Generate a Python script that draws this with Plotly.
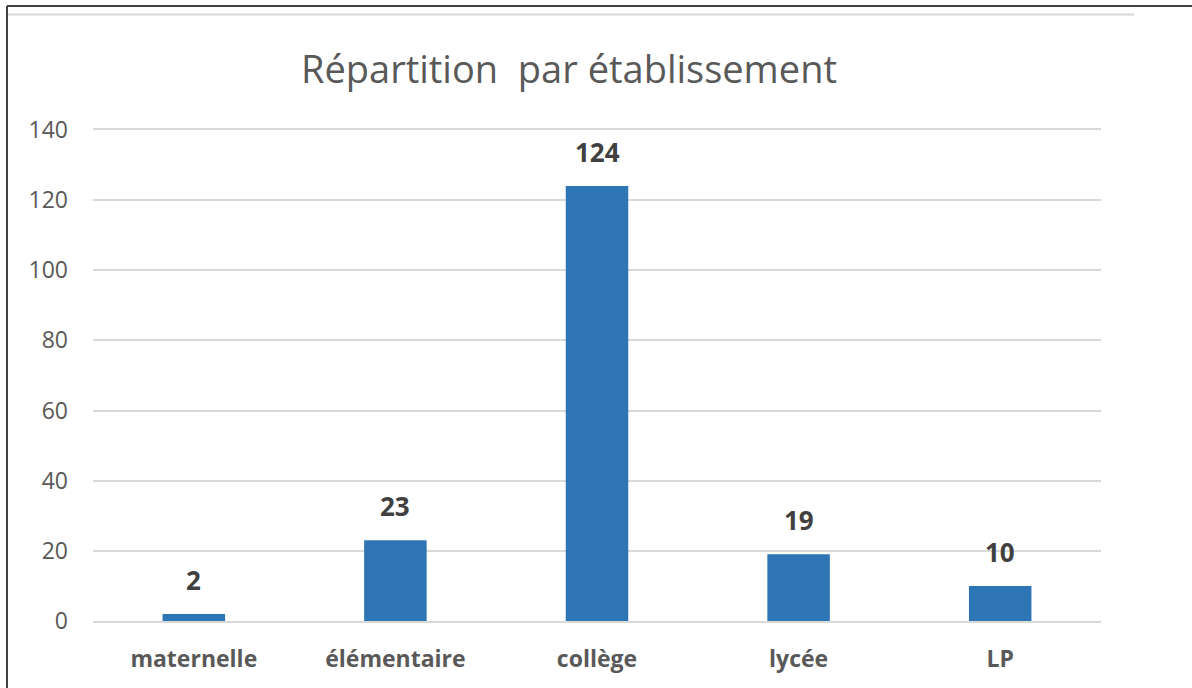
import plotly.graph_objects as go

categories = ["maternelle", "élémentaire", "collège", "lycée", "LP"]
values = [2, 23, 124, 19, 10]
y_ticks = [0, 20, 40, 60, 80, 100, 120, 140]
title_text = "Répartition\u00a0 par établissement"

W, H = 1192, 688
L, R, T, B = 93, 91, 130, 67
pw, ph = W - L - R, H - T - B

def px_x(x):
    return (x - L) / pw

def px_y(y):
    return (H - B - y) / ph

fig = go.Figure()
fig.add_trace(go.Bar(
    x=categories, y=values,
    marker=dict(color="#2E75B6", line=dict(width=0)),
    hoverinfo="x+y",
))

for c, v in zip(categories, values):
    fig.add_annotation(
        x=c, y=v, text=f"<b>{v}</b>", showarrow=False,
        yanchor="bottom", yshift=14,
        font=dict(family="Open Sans, sans-serif", size=26, color="#404040"),
    )

fig.add_annotation(
    xref="paper", yref="paper", x=px_x(569), y=px_y(68),
    text=title_text, showarrow=False, xanchor="center", yanchor="middle",
    font=dict(family="Open Sans, sans-serif", size=38, color="#595959"),
)

# chart frame lines
fig.add_shape(type="line", xref="paper", yref="paper",
              x0=px_x(7), x1=px_x(1192), y0=px_y(6), y1=px_y(6),
              line=dict(color="#404040", width=2))
fig.add_shape(type="line", xref="paper", yref="paper",
              x0=px_x(7), x1=px_x(7), y0=px_y(6), y1=px_y(688),
              line=dict(color="#404040", width=2))
fig.add_shape(type="line", xref="paper", yref="paper",
              x0=px_x(8), x1=px_x(1134), y0=px_y(14.5), y1=px_y(14.5),
              line=dict(color="#D6D6D6", width=2))

fig.update_layout(
    width=W, height=H,
    margin=dict(l=L, r=R, t=T, b=B, pad=0),
    paper_bgcolor="white", plot_bgcolor="white",
    showlegend=False,
    bargap=0.69,
    font=dict(family="Open Sans, sans-serif", color="#595959"),
    xaxis=dict(
        showgrid=False, showline=True, mirror=True,
        linecolor="#D9D9D9", linewidth=2,
        ticks="", ticklabelstandoff=16,
        tickfont=dict(family="Open Sans, sans-serif", size=23, color="#595959", weight="bold"),
    ),
    yaxis=dict(
        range=[0, 140], tickvals=y_ticks, showgrid=True,
        gridcolor="#D9D9D9", gridwidth=2, zeroline=False,
        showline=False, ticks="", ticklabelstandoff=24,
        tickfont=dict(family="Open Sans, sans-serif", size=23, color="#595959"),
    ),
)

fig.write_html(
    "out.html",
    config={"displayModeBar": False},
    post_script="document.body.style.margin='0';document.body.style.overflow='hidden';",
)
